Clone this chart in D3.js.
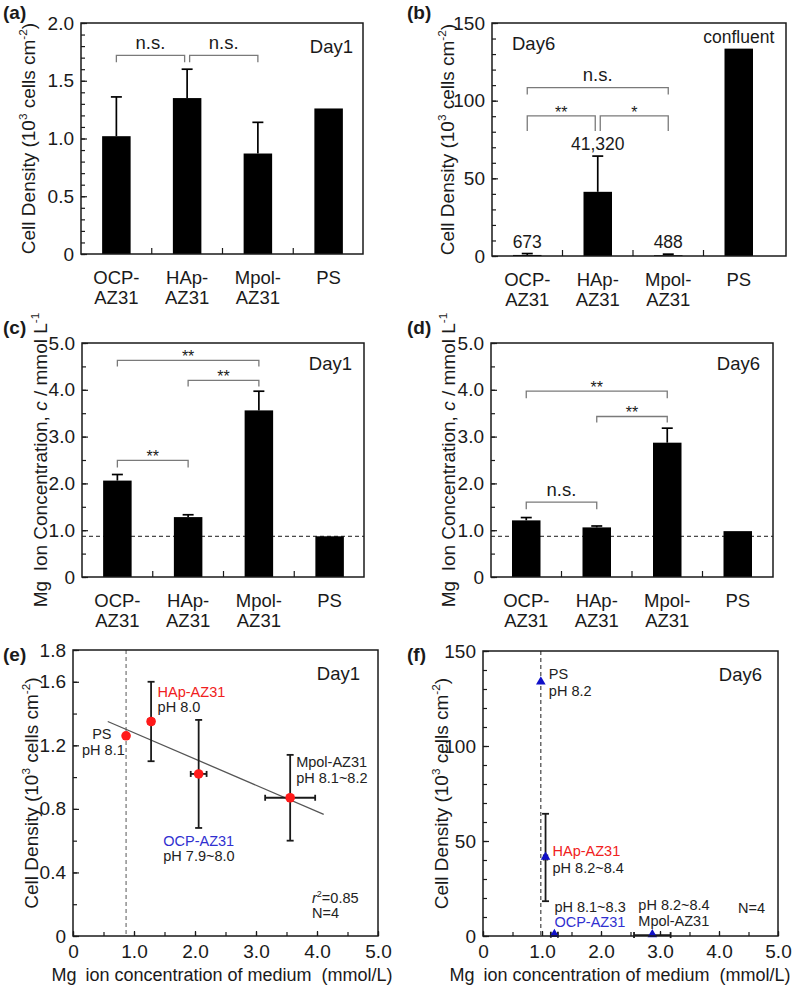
<!DOCTYPE html>
<html><head><meta charset="utf-8">
<script src="https://cdn.jsdelivr.net/npm/d3@7"></script>
<style>
body{margin:0;background:#fff;}
svg{display:block;font-family:"Liberation Sans",Arial,Helvetica,sans-serif;}
text{white-space:pre;}
</style></head><body>
<svg id="chart" width="794" height="987"></svg>
<script>
// ---------------- DATA ----------------
const categories = ["OCP-AZ31", "HAp-AZ31", "Mpol-AZ31", "PS"];
const categoryLines = [["OCP-", "AZ31"], ["HAp-", "AZ31"], ["Mpol-", "AZ31"], ["PS"]];

const day1Density = [1.02, 1.35, 0.87, 1.26];        // 10^3 cells cm^-2
const day1DensitySD = [0.34, 0.25, 0.27, 0];
const day6Density = [0.673, 41.32, 0.488, 133.5];
const day6DensitySD = [0.9, 23.0, 0.7, 0];
const day6DensityLabels = ["673", "41,320", "488", "confluent"];

const day1Mg = [2.06, 1.28, 3.56, 0.87];             // mmol/L
const day1MgSD = [0.13, 0.05, 0.41, 0];
const day6Mg = [1.21, 1.06, 2.87, 0.98];
const day6MgSD = [0.06, 0.03, 0.31, 0];
const mediumMg = 0.87;

const fitLineX = [0.57, 4.11];
const fitLineY = [1.35, 0.766];

const phDay1 = ["pH 7.9~8.0", "pH 8.0", "pH 8.1~8.2", "pH 8.1"];
const phDay6 = ["pH 8.1~8.3", "pH 8.2~8.4", "pH 8.2~8.4", "pH 8.2"];

const bracketsA = [
  {from: "OCP-AZ31", to: "HAp-AZ31", level: 1.72, leg: 1.66, label: "n.s."},
  {from: "HAp-AZ31", to: "Mpol-AZ31", level: 1.72, leg: 1.66, label: "n.s."}
];
const bracketsB = [
  {from: "OCP-AZ31", to: "Mpol-AZ31", level: 108.4, leg: 104, label: "n.s."},
  {from: "OCP-AZ31", to: "HAp-AZ31", level: 90.2, leg: 80.4, label: "**"},
  {from: "HAp-AZ31", to: "Mpol-AZ31", level: 90.2, leg: 80.4, label: "*"}
];
const bracketsC = [
  {from: "OCP-AZ31", to: "Mpol-AZ31", level: 4.63, leg: 4.50, label: "**"},
  {from: "HAp-AZ31", to: "Mpol-AZ31", level: 4.20, leg: 4.07, label: "**"},
  {from: "OCP-AZ31", to: "HAp-AZ31", level: 2.49, leg: 2.34, label: "**"}
];
const bracketsD = [
  {from: "OCP-AZ31", to: "Mpol-AZ31", level: 3.97, leg: 3.82, label: "**"},
  {from: "HAp-AZ31", to: "Mpol-AZ31", level: 3.43, leg: 3.30, label: "**"},
  {from: "OCP-AZ31", to: "HAp-AZ31", level: 1.60, leg: 1.45, label: "n.s."}
];

const ticksDensity1 = [0, 0.5, 1.0, 1.5, 2.0];
const tickLabelsDensity1 = ["0", "0.5", "1.0", "1.5", "2.0"];
const ticksDensity6 = [0, 50, 100, 150];
const tickLabelsDensity6 = ["0", "50", "100", "150"];
const ticksMg = [0, 1, 2, 3, 4, 5];
const tickLabelsMg = ["0", "1.0", "2.0", "3.0", "4.0", "5.0"];
const ticksDensityE = [0, 0.4, 0.8, 1.2, 1.6, 1.8];
const tickLabelsDensityE = ["0", "0.4", "0.8", "1.2", "1.6", "1.8"];

// ---------------- DRAWING ----------------
const svg = d3.select("#chart");
const INK = "#1a1a1a";

function rich(textSel, parts) {
  let shift = 0;
  parts.forEach(p => {
    const t = textSel.append("tspan").text(p.t);
    const target = p.sup ? -0.42 : 0;
    const fs = p.sup ? 0.62 : 1;
    if (p.sup) t.attr("font-size", "0.62em");
    if (p.italic) t.attr("font-style", "italic");
    const dyEm = (target - shift) / fs;
    if (Math.abs(dyEm) > 1e-6) t.attr("dy", dyEm + "em");
    shift = target;
  });
  return textSel;
}

const densityTitle = [{t: "Cell Density (10"}, {t: "3", sup: true}, {t: " cells cm"}, {t: "-2", sup: true}, {t: ")"}];
const mgTitle = [{t: "Mg\u2002Ion Concentration, "}, {t: "c", italic: true}, {t: " / mmol L"}, {t: "-1", sup: true}];

function yTitle(cx, cy, parts, fs) {
  const t = svg.append("text")
    .attr("transform", `translate(${cx},${cy}) rotate(-90)`)
    .attr("text-anchor", "middle").attr("dy", "0.35em")
    .attr("font-size", fs).attr("fill", INK);
  rich(t, parts);
}

function drawYAxis(g, L, y, ticks, labels, minorStep, max) {
  const minor = d3.range(0, max + 1e-9, minorStep);
  g.append("g").attr("transform", `translate(${L},0)`)
    .call(d3.axisLeft(y).tickValues(minor).tickSize(-4).tickFormat(""))
    .call(s => s.select(".domain").remove())
    .call(s => s.selectAll("line").attr("stroke", INK).attr("stroke-width", 1.2));
  g.append("g").attr("transform", `translate(${L},0)`)
    .call(d3.axisLeft(y).tickValues(ticks).tickSize(-6).tickPadding(7)
      .tickFormat((d, i) => labels[i]))
    .call(s => s.select(".domain").remove())
    .call(s => s.selectAll("line").attr("stroke", INK).attr("stroke-width", 1.2))
    .call(s => s.selectAll("text").attr("font-size", 19).attr("fill", INK)
      .attr("font-family", null));
}

function drawXAxisLinear(g, B, x, ticks, labels, minorStep, max) {
  const minor = d3.range(0, max + 1e-9, minorStep);
  g.append("g").attr("transform", `translate(0,${B})`)
    .call(d3.axisBottom(x).tickValues(minor).tickSize(-4).tickFormat(""))
    .call(s => s.select(".domain").remove())
    .call(s => s.selectAll("line").attr("stroke", INK).attr("stroke-width", 1.2));
  g.append("g").attr("transform", `translate(0,${B})`)
    .call(d3.axisBottom(x).tickValues(ticks).tickSize(-5).tickPadding(9)
      .tickFormat((d, i) => labels[i]))
    .call(s => s.select(".domain").remove())
    .call(s => s.selectAll("line").attr("stroke", INK).attr("stroke-width", 1.2))
    .call(s => s.selectAll("text").attr("font-size", 19).attr("fill", INK)
      .attr("font-family", null));
}

function panelLabel(x, y, s) {
  svg.append("text").attr("x", x).attr("y", y).attr("font-size", 19)
    .attr("font-weight", "bold").attr("fill", INK).text(s);
}

function barPanel(o) {
  const g = svg.append("g");
  const x = d3.scaleBand().domain(categories).range([o.L, o.bandR]).padding(0);
  const y = d3.scaleLinear().domain([0, o.yMax]).range([o.B, o.T]);
  const bw = 28.5;
  const cx = c => x(c) + x.bandwidth() / 2;

  if (o.refLine != null) {
    g.append("line").attr("x1", o.L).attr("x2", o.R)
      .attr("y1", y(o.refLine)).attr("y2", y(o.refLine))
      .attr("stroke", INK).attr("stroke-width", 1).attr("stroke-dasharray", "4,3");
  }
  g.selectAll("rect.bar").data(o.values).join("rect")
    .attr("x", (d, i) => cx(categories[i]) - bw / 2)
    .attr("y", d => y(d)).attr("width", bw).attr("height", d => y(0) - y(d))
    .attr("fill", "#000");
  o.values.forEach((v, i) => {
    const sd = o.sd[i];
    if (!sd) return;
    const c = cx(categories[i]);
    g.append("line").attr("x1", c).attr("x2", c).attr("y1", y(v)).attr("y2", y(v + sd))
      .attr("stroke", "#000").attr("stroke-width", 1.7);
    g.append("line").attr("x1", c - 5.5).attr("x2", c + 5.5).attr("y1", y(v + sd)).attr("y2", y(v + sd))
      .attr("stroke", "#000").attr("stroke-width", 1.7);
  });
  if (o.valueLabels) {
    o.valueLabels.forEach((s, i) => {
      const top = o.values[i] + (o.sd[i] || 0);
      g.append("text").attr("x", cx(categories[i])).attr("y", y(top) - 6)
        .attr("text-anchor", "middle").attr("font-size", 17.5).attr("fill", INK).text(s);
    });
  }
  o.brackets.forEach(b => {
    let x1 = cx(b.from), x2 = cx(b.to);
    if (o.brackets.some(q => q !== b && q.from === b.to && q.level === b.level)) x2 -= 2.5;
    if (o.brackets.some(q => q !== b && q.to === b.from && q.level === b.level)) x1 += 2.5;
    const yl = y(b.level), yb = y(b.leg);
    g.append("path").attr("d", `M${x1},${yb}V${yl}H${x2}V${yb}`)
      .attr("fill", "none").attr("stroke", "#7a7a7a").attr("stroke-width", 1.3);
    const star = b.label.indexOf("*") >= 0;
    g.append("text").attr("x", (x1 + x2) / 2).attr("y", star ? yl + 2 : yl - 6.5)
      .attr("text-anchor", "middle").attr("font-size", star ? 16 : 18.5)
      .attr("fill", INK).text(b.label);
  });
  g.append("rect").attr("x", o.L).attr("y", o.T).attr("width", o.R - o.L).attr("height", o.B - o.T)
    .attr("fill", "none").attr("stroke", INK).attr("stroke-width", 1.5);
  drawYAxis(g, o.L, y, o.ticks, o.tickLabels, o.minorStep, o.yMax);
  g.selectAll("line.bt").data(categories.slice(1)).join("line")
    .attr("x1", d => x(d)).attr("x2", d => x(d))
    .attr("y1", o.B).attr("y2", o.B - 6).attr("stroke", INK).attr("stroke-width", 1.2);
  categoryLines.forEach((lines, i) => {
    lines.forEach((s, k) => {
      g.append("text").attr("x", cx(categories[i])).attr("y", o.B + 30 + k * 20)
        .attr("text-anchor", "middle").attr("font-size", 18.5).attr("fill", INK).text(s);
    });
  });
  g.append("text").attr("x", o.day.x).attr("y", o.day.y).attr("text-anchor", o.day.anchor)
    .attr("font-size", 18.5).attr("fill", INK).text(o.day.text);
  yTitle(o.titleX, (o.T + o.B) / 2, o.title, 19);
}

function scatterPanel(o) {
  const g = svg.append("g");
  const x = d3.scaleLinear().domain([0, 5]).range([o.L, o.R]);
  const y = d3.scaleLinear().domain([0, o.yMax]).range([o.B, o.T]);
  g.append("line").attr("x1", x(o.xs[3])).attr("x2", x(o.xs[3]))
    .attr("y1", o.T).attr("y2", o.B)
    .attr("stroke", o.dashColor).attr("stroke-width", 1.1).attr("stroke-dasharray", "4,3");
  if (o.fit) {
    g.append("line").attr("x1", x(o.fit[0][0])).attr("y1", y(o.fit[1][0]))
      .attr("x2", x(o.fit[0][1])).attr("y2", y(o.fit[1][1]))
      .attr("stroke", "#555").attr("stroke-width", 1.3);
  }
  o.xs.forEach((xv, i) => {
    const yv = o.ys[i], ysd = o.ysd[i], xsd = o.xsd[i];
    const px = x(xv), py = y(yv);
    if (ysd && (y(yv - ysd) - y(yv + ysd)) > 4) {
      const y1 = y(Math.max(0, yv - ysd)), y2 = y(yv + ysd);
      g.append("line").attr("x1", px).attr("x2", px).attr("y1", y1).attr("y2", y2)
        .attr("stroke", INK).attr("stroke-width", 1.8);
      [y1, y2].forEach(yy => g.append("line").attr("x1", px - 3.5).attr("x2", px + 3.5)
        .attr("y1", yy).attr("y2", yy).attr("stroke", INK).attr("stroke-width", 1.8));
    }
    if (xsd) {
      const x1 = x(xv - xsd), x2 = x(xv + xsd);
      g.append("line").attr("x1", x1).attr("x2", x2).attr("y1", py).attr("y2", py)
        .attr("stroke", INK).attr("stroke-width", 1.8);
      [x1, x2].forEach(xx => g.append("line").attr("x1", xx).attr("x2", xx)
        .attr("y1", py - 3).attr("y2", py + 3).attr("stroke", INK).attr("stroke-width", 1.8));
    }
  });
  if (o.marker === "circle") {
    g.selectAll("circle.pt").data(o.xs).join("circle")
      .attr("cx", d => x(d)).attr("cy", (d, i) => y(o.ys[i])).attr("r", 4.8)
      .attr("fill", "#ff1a1a");
  } else {
    g.selectAll("path.pt").data(o.xs).join("path")
      .attr("d", d3.symbol(d3.symbolTriangle, 40))
      .attr("transform", (d, i) => `translate(${x(d)},${y(o.ys[i]) - 0.5})`)
      .attr("fill", "#1010c8");
  }
  o.notes.forEach(n => {
    const px = x(o.xs[n.i]), py = y(o.ys[n.i]);
    n.lines.forEach(l => {
      g.append("text").attr("x", px + n.dx).attr("y", py + l.dy)
        .attr("text-anchor", n.anchor || "start").attr("font-size", 14.5)
        .attr("fill", l.color || "#222").text(l.text);
    });
  });
  g.append("rect").attr("x", o.L).attr("y", o.T).attr("width", o.R - o.L).attr("height", o.B - o.T)
    .attr("fill", "none").attr("stroke", INK).attr("stroke-width", 1.5);
  drawYAxis(g, o.L, y, o.yTicks, o.yTickLabels, o.yMinor, o.yMax);
  drawXAxisLinear(g, o.B, x, ticksMg, tickLabelsMg, 0.5, 5);
  o.stats.forEach(s => {
    const t = g.append("text").attr("x", s.x).attr("y", s.y).attr("font-size", 14.5).attr("fill", "#222");
    rich(t, s.parts);
  });
  g.append("text").attr("x", o.day.x).attr("y", o.day.y).attr("text-anchor", "end")
    .attr("font-size", 18.5).attr("fill", INK).text(o.day.text);
  svg.append("text").attr("x", o.xTitleX).attr("y", o.B + 45).attr("text-anchor", "middle")
    .attr("font-size", 18).attr("fill", INK).text("Mg\u2002ion concentration of medium  (mmol/L)");
  yTitle(o.titleX, (o.T + o.B) / 2, densityTitle, 19);
}

// (a)
barPanel({L: 81, R: 363, bandR: 364, T: 23, B: 254, yMax: 2,
  values: day1Density, sd: day1DensitySD, brackets: bracketsA,
  ticks: ticksDensity1, tickLabels: tickLabelsDensity1, minorStep: 0.1,
  day: {x: 353, y: 53, anchor: "end", text: "Day1"}, title: densityTitle, titleX: 28});
// (b)
barPanel({L: 492, R: 786, bandR: 774, T: 23, B: 256, yMax: 150,
  values: day6Density, sd: day6DensitySD, brackets: bracketsB, valueLabels: day6DensityLabels,
  ticks: ticksDensity6, tickLabels: tickLabelsDensity6, minorStep: 10,
  day: {x: 512, y: 50, anchor: "start", text: "Day6"}, title: densityTitle, titleX: 447});
// (c)
barPanel({L: 82, R: 364, bandR: 365, T: 343, B: 577, yMax: 5, refLine: mediumMg,
  values: day1Mg, sd: day1MgSD, brackets: bracketsC,
  ticks: ticksMg, tickLabels: tickLabelsMg, minorStep: 0.5,
  day: {x: 352, y: 370, anchor: "end", text: "Day1"}, title: mgTitle, titleX: 40});
// (d)
barPanel({L: 491, R: 773, bandR: 773, T: 343, B: 577, yMax: 5, refLine: mediumMg,
  values: day6Mg, sd: day6MgSD, brackets: bracketsD,
  ticks: ticksMg, tickLabels: tickLabelsMg, minorStep: 0.5,
  day: {x: 760, y: 370, anchor: "end", text: "Day6"}, title: mgTitle, titleX: 448});
// (e)
scatterPanel({L: 73, R: 378, T: 650, B: 936, yMax: 1.8,
  xs: day1Mg, xsd: day1MgSD, ys: day1Density, ysd: day1DensitySD,
  marker: "circle", dashColor: "#666", fit: [fitLineX, fitLineY],
  yTicks: ticksDensityE, yTickLabels: tickLabelsDensityE, yMinor: 0.2,
  notes: [
    {i: 1, dx: 6.5, lines: [{dy: -24.3, text: categories[1], color: "#f02020"}, {dy: -9.3, text: phDay1[1]}]},
    {i: 3, dx: -14.6, anchor: "end", lines: [{dy: 3.3, text: categories[3]}]},
    {i: 3, dx: -1.3, anchor: "end", lines: [{dy: 18.8, text: phDay1[3]}]},
    {i: 0, dx: -35.4, lines: [{dy: 71.6, text: categories[0], color: "#3030d0"}, {dy: 86.6, text: phDay1[0]}]},
    {i: 2, dx: 6, lines: [{dy: -30.8, text: categories[2]}, {dy: -14.3, text: phDay1[2]}]}
  ],
  stats: [
    {x: 312, y: 903, parts: [{t: "r", italic: true}, {t: "2", sup: true}, {t: "=0.85"}]},
    {x: 312, y: 918, parts: [{t: "N=4"}]}
  ],
  day: {x: 360, y: 680, text: "Day1"}, xTitleX: 222, titleX: 31});
// (f)
scatterPanel({L: 483, R: 778, T: 651, B: 936, yMax: 150,
  xs: day6Mg, xsd: day6MgSD, ys: day6Density, ysd: day6DensitySD,
  marker: "triangle", dashColor: "#333",
  yTicks: ticksDensity6, yTickLabels: tickLabelsDensity6, yMinor: 10,
  notes: [
    {i: 3, dx: 8, lines: [{dy: -3.2, text: categories[3]}, {dy: 13.5, text: phDay6[3]}]},
    {i: 1, dx: 7, lines: [{dy: -1, text: categories[1], color: "#f02020"}, {dy: 15.5, text: phDay6[1]}]},
    {i: 0, dx: 0, lines: [{dy: -23, text: phDay6[0]}, {dy: -8, text: categories[0], color: "#3030d0"}]},
    {i: 2, dx: -14, lines: [{dy: -25, text: phDay6[2]}, {dy: -9.3, text: categories[2]}]}
  ],
  stats: [{x: 738, y: 913, parts: [{t: "N=4"}]}],
  day: {x: 762, y: 681, text: "Day6"}, xTitleX: 620, titleX: 441});

panelLabel(3, 19, "(a)");
panelLabel(407, 19, "(b)");
panelLabel(3, 334, "(c)");
panelLabel(407, 334, "(d)");
panelLabel(3, 661, "(e)");
panelLabel(407, 661, "(f)");
</script>
</body></html>
